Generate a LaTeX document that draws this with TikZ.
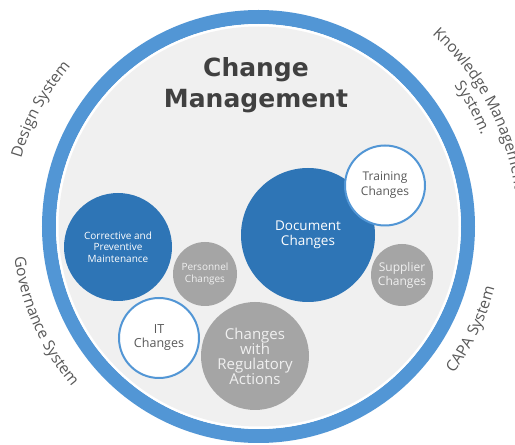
\documentclass[tikz,border=0pt]{standalone}
\usepackage{fontspec}
\setmainfont{Open Sans}
\newfontfamily\titlefont{DejaVu Sans}
\usetikzlibrary{decorations.text}

\definecolor{ringblue}{HTML}{5296D5}
\definecolor{deepblue}{HTML}{2E75B6}
\definecolor{bubblegray}{HTML}{A5A5A5}
\definecolor{paper}{HTML}{F0F0F0}
\definecolor{inkgray}{HTML}{595959}
\definecolor{titlegray}{HTML}{404040}

\newcommand{\fs}[2]{\fontsize{#1}{#2}\selectfont}

\tikzset{
  bubble/.style={circle, inner sep=0pt, align=center},
  solidblue/.style={bubble, fill=deepblue, text=white},
  solidgray/.style={bubble, fill=bubblegray, text=white!94!black},
  outlined/.style={bubble, fill=white, draw=ringblue, line width=2pt, text=inkgray},
  titletext/.style={anchor=base, font=\titlefont\bfseries\fs{25}{29}, text=titlegray},
  arclabel/.style={decorate, decoration={text along path, text align=center, text color=inkgray}},
}

\begin{document}
\begin{tikzpicture}[x=1pt,y=1pt]
\useasboundingbox (0,0) rectangle (515,445);
\clip (0,0) rectangle (515,445);
\fill[white] (0,0) rectangle (515,445);

% outer ring and its light disc
\coordinate (hub) at (258.5,218.5);
\draw[ringblue, line width=14pt] (hub) circle[radius=209.5];
\fill[white] (hub) circle[radius=202.5];
\fill[paper] (hub) circle[radius=200];

% heading
\node[titletext] (title1) at (256,368) {Change};
\node[titletext] (title2) at (256,337) {Management};

% change categories
\node[solidblue, minimum size=108pt, font=\fs{10}{11.5}] (cpm) at (118,198) {Corrective and\\Preventive\\Maintenance};
\node[solidblue, minimum size=134pt, font=\fs{13.5}{15.5}] (doc) at (308,210) {Document\\Changes};
\node[outlined, minimum size=80pt, font=\fs{12}{15}] (train) at (385,259.5) {Training\\Changes};
\node[solidgray, minimum size=64pt, font=\fs{10}{12}] (pers) at (205,171) {Personnel\\Changes};
\node[outlined, minimum size=80pt, font=\fs{12.5}{14}] (it) at (159,107) {IT\\Changes};
\node[solidgray, minimum size=108pt, font=\fs{15}{15}] (reg) at (255,89) {Changes\\with\\Regulatory\\Actions};
\node[solidgray, minimum size=62pt, font=\fs{12}{14}] (sup) at (402,170) {Supplier\\Changes};

% surrounding systems, set along arcs around the ring
\path[arclabel, decoration={text={|\fs{15.5}{18}|Design System}}]
  (hub) ++(176.7:247) arc[start angle=176.7, end angle=126.7, radius=247];
\path[arclabel, decoration={text={|\fs{15.5}{18}|Knowledge Management}}]
  (hub) ++(68:259) arc[start angle=68, end angle=-12, radius=259];
\path[arclabel, decoration={text={|\fs{15.5}{18}|System.}}]
  (hub) ++(59:241) arc[start angle=59, end angle=-1, radius=241];
\path[arclabel, decoration={text={|\fs{15.5}{18}|Governance System}}]
  (hub) ++(174:246) arc[start angle=174, end angle=234, radius=246];
\path[arclabel, decoration={text={|\fs{15.5}{18}|CAPA System}}]
  (hub) ++(-50.8:244) arc[start angle=-50.8, end angle=-0.8, radius=244];
\end{tikzpicture}
\end{document}
